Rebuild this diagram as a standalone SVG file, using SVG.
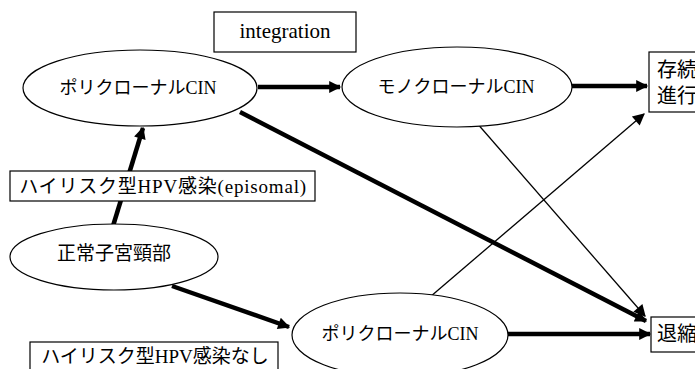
<svg xmlns="http://www.w3.org/2000/svg" width="695" height="369" viewBox="0 0 695 369">
<style>
.node{fill:#fff;stroke:#000;stroke-width:1.2}
.t{font-family:"Liberation Serif","Noto Sans CJK JP",serif;font-size:18px;fill:#000;text-anchor:middle;dominant-baseline:central}
.thick{stroke:#000;stroke-width:4.5;fill:none}
.thin{stroke:#000;stroke-width:1.3;fill:none}
</style>
<defs>
<marker id="ah" viewBox="0 0 10 10" refX="9" refY="5" markerWidth="16" markerHeight="12" markerUnits="userSpaceOnUse" orient="auto"><path d="M0,0 L10,5 L0,10 z" fill="#000"/></marker>
</defs>
<g id="connectors">
<line class="thick" x1="258" y1="87" x2="340" y2="87" marker-end="url(#ah)"/>
<line class="thick" x1="572" y1="86" x2="647" y2="86" marker-end="url(#ah)"/>
<line class="thick" x1="240" y1="112" x2="646" y2="321" marker-end="url(#ah)"/>
<line class="thick" x1="113" y1="226" x2="143" y2="128" marker-end="url(#ah)"/>
<line class="thick" x1="172" y1="286" x2="289" y2="327" marker-end="url(#ah)"/>
<line class="thick" x1="508" y1="334" x2="650" y2="334" marker-end="url(#ah)"/>
<line class="thin" x1="476" y1="122" x2="645" y2="316" marker-end="url(#ah)"/>
<line class="thin" x1="430" y1="297" x2="644" y2="114" marker-end="url(#ah)"/>
</g>
<g id="integration"><rect class="node" x="214" y="12" width="142" height="40"/><text class="t" x="285" y="31" style="font-size:21px">integration</text></g>
<g id="poly1"><ellipse class="node" cx="140" cy="88" rx="117" ry="38"/><text class="t" x="138" y="88">ポリクローナルCIN</text></g>
<g id="mono"><ellipse class="node" cx="457" cy="87" rx="115" ry="40"/><text class="t" x="456" y="87">モノクローナルCIN</text></g>
<g id="progress"><rect class="node" x="649" y="52" width="60" height="60"/><text class="t" x="677" y="70" style="font-size:20px">存続</text><text class="t" x="677" y="96" style="font-size:20px">進行</text></g>
<g id="episomal"><rect class="node" x="10" y="171" width="305" height="30"/><text class="t" x="163" y="186" style="font-size:19px;letter-spacing:0.8px">ハイリスク型HPV感染(episomal)</text></g>
<g id="normal"><ellipse class="node" cx="114" cy="257" rx="104" ry="33"/><text class="t" x="114" y="253" style="font-size:19px">正常子宮頸部</text></g>
<g id="poly2"><ellipse class="node" cx="400" cy="335" rx="108" ry="42"/><text class="t" x="400" y="334">ポリクローナルCIN</text></g>
<g id="regress"><rect class="node" x="651" y="317" width="60" height="35"/><text class="t" x="677" y="334" style="font-size:20px">退縮</text></g>
<g id="nohpv"><rect class="node" x="30" y="342" width="248" height="40"/><text class="t" x="155" y="356" style="font-size:19px">ハイリスク型HPV感染なし</text></g>
</svg>
